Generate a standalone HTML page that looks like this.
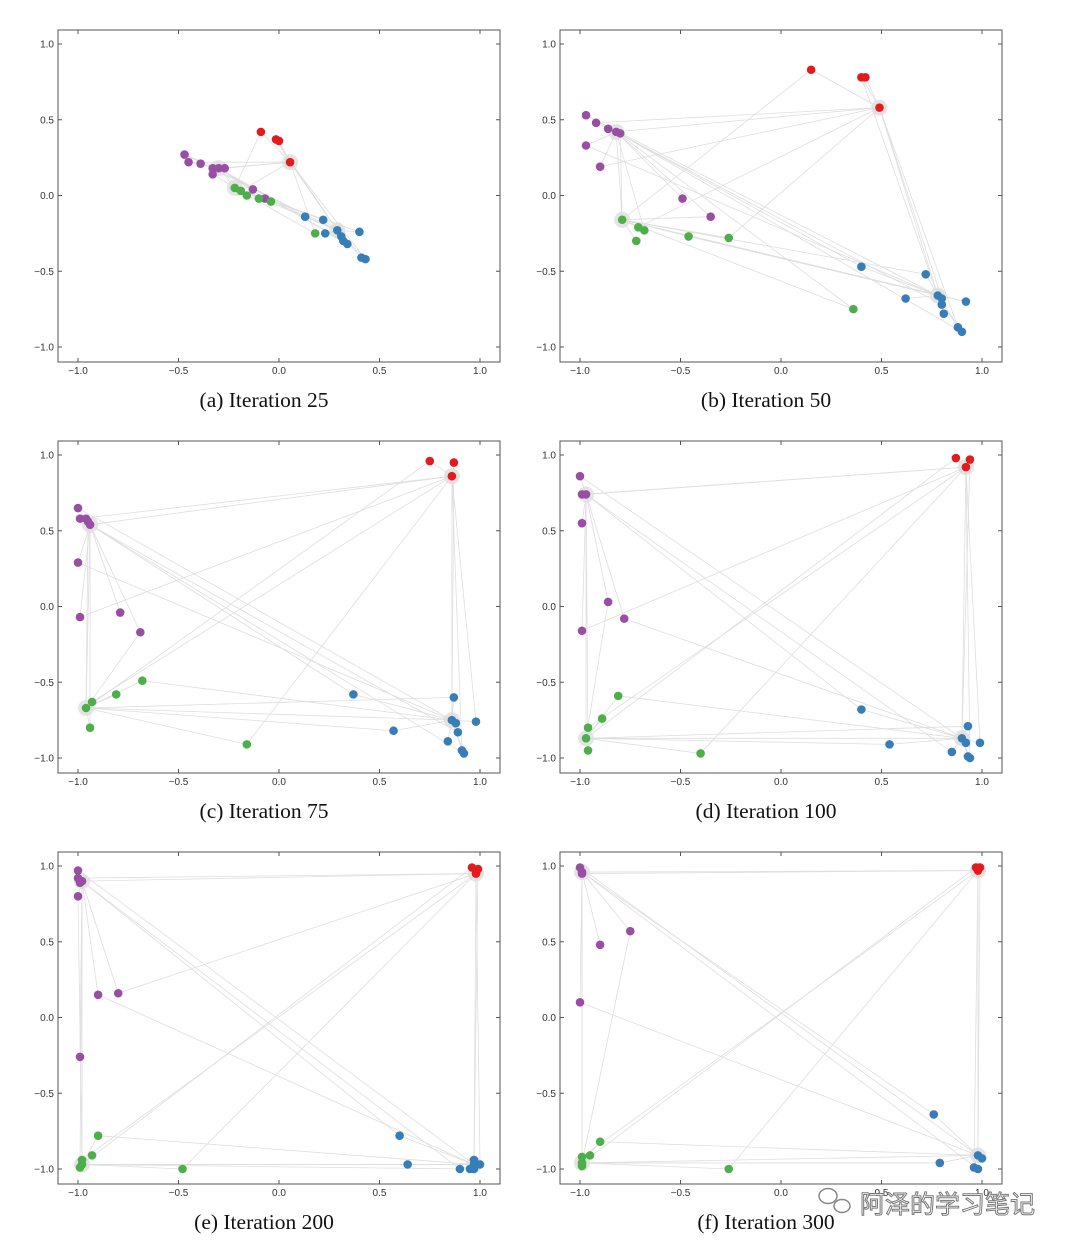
<!DOCTYPE html>
<html><head><meta charset="utf-8">
<style>
html,body{margin:0;padding:0;background:#fff;}
body{width:1080px;height:1251px;overflow:hidden;position:relative;}
svg{position:absolute;left:0;top:0;}
</style></head>
<body>
<svg id="chart" width="1080" height="1251" viewBox="0 0 1080 1251" xmlns="http://www.w3.org/2000/svg"></svg>
<script>
const tickVals = [-1.0, -0.5, 0.0, 0.5, 1.0];
const tickLabels = ["\u22121.0", "\u22120.5", "0.0", "0.5", "1.0"];
const captions = ["(a) Iteration 25","(b) Iteration 50","(c) Iteration 75","(d) Iteration 100","(e) Iteration 200","(f) Iteration 300"];
const groupNames = ["red","purple","green","blue"];
const groupColors = ["#e41a1c","#984ea3","#4daf4a","#377eb8"];

const redA=[[0.055,0.22],[-0.09,0.42],[-0.015,0.37],[0,0.36]];
const purpleA=[[-0.3,0.18],[-0.47,0.27],[-0.45,0.22],[-0.39,0.21],[-0.33,0.14],[-0.33,0.18],[-0.27,0.18],[-0.13,0.04],[-0.07,-0.02]];
const greenA=[[-0.22,0.05],[-0.19,0.03],[-0.16,0],[-0.1,-0.02],[-0.04,-0.04],[0.18,-0.25]];
const blueA=[[0.29,-0.23],[0.13,-0.14],[0.22,-0.16],[0.23,-0.25],[0.31,-0.27],[0.34,-0.32],[0.4,-0.24],[0.41,-0.41],[0.43,-0.42],[0.32,-0.3]];

const redB=[[0.49,0.58],[0.15,0.83],[0.4,0.78],[0.42,0.78]];
const purpleB=[[-0.82,0.42],[-0.97,0.53],[-0.92,0.48],[-0.86,0.44],[-0.8,0.41],[-0.97,0.33],[-0.9,0.19],[-0.49,-0.02],[-0.35,-0.14]];
const greenB=[[-0.79,-0.16],[-0.71,-0.21],[-0.68,-0.23],[-0.72,-0.3],[-0.46,-0.27],[-0.26,-0.28],[0.36,-0.75]];
const blueB=[[0.78,-0.66],[0.4,-0.47],[0.72,-0.52],[0.62,-0.68],[0.8,-0.68],[0.8,-0.72],[0.92,-0.7],[0.81,-0.78],[0.88,-0.87],[0.9,-0.9]];

const redC=[[0.86,0.86],[0.75,0.96],[0.87,0.95]];
const purpleC=[[-0.94,0.54],[-1,0.65],[-0.99,0.58],[-0.96,0.58],[-0.95,0.56],[-1,0.29],[-0.99,-0.07],[-0.79,-0.04],[-0.69,-0.17]];
const greenC=[[-0.96,-0.67],[-0.93,-0.63],[-0.94,-0.8],[-0.81,-0.58],[-0.68,-0.49],[-0.16,-0.91]];
const blueC=[[0.86,-0.75],[0.37,-0.58],[0.87,-0.6],[0.88,-0.77],[0.98,-0.76],[0.89,-0.83],[0.57,-0.82],[0.84,-0.89],[0.91,-0.95],[0.92,-0.97]];

const redD=[[0.92,0.92],[0.87,0.98],[0.94,0.97]];
const purpleD=[[-0.97,0.74],[-1,0.86],[-0.99,0.74],[-0.99,0.55],[-0.86,0.03],[-0.78,-0.08],[-0.99,-0.16]];
const greenD=[[-0.97,-0.87],[-0.96,-0.8],[-0.96,-0.95],[-0.89,-0.74],[-0.81,-0.59],[-0.4,-0.97]];
const blueD=[[0.9,-0.87],[0.4,-0.68],[0.93,-0.79],[0.92,-0.9],[0.99,-0.9],[0.85,-0.96],[0.54,-0.91],[0.93,-0.99],[0.94,-1.0]];

const redE=[[0.98,0.95],[0.96,0.99],[0.99,0.98]];
const purpleE=[[-0.98,0.9],[-1,0.97],[-1,0.92],[-0.99,0.89],[-1,0.8],[-0.9,0.15],[-0.8,0.16],[-0.99,-0.26]];
const greenE=[[-0.98,-0.97],[-0.98,-0.94],[-0.99,-0.99],[-0.93,-0.91],[-0.9,-0.78],[-0.48,-1.0]];
const blueE=[[0.97,-0.97],[0.6,-0.78],[0.64,-0.97],[0.97,-0.94],[1,-0.97],[0.9,-1.0],[0.95,-1.0],[0.97,-1.0]];

const redF=[[0.98,0.97],[0.97,0.99],[0.99,0.99]];
const purpleF=[[-0.99,0.96],[-1,0.99],[-0.99,0.95],[-0.9,0.48],[-0.75,0.57],[-1,0.1]];
const greenF=[[-0.99,-0.96],[-0.99,-0.92],[-0.99,-0.98],[-0.95,-0.91],[-0.9,-0.82],[-0.26,-1.0]];
const blueF=[[0.98,-0.91],[0.76,-0.64],[0.79,-0.96],[1,-0.93],[0.96,-0.99],[0.98,-1.0]];

const panelData=[[redA,purpleA,greenA,blueA],[redB,purpleB,greenB,blueB],[redC,purpleC,greenC,blueC],[redD,purpleD,greenD,blueD],[redE,purpleE,greenE,blueE],[redF,purpleF,greenF,blueF]];

const NS="http://www.w3.org/2000/svg";
const svg=document.getElementById('chart');
function mk(tag,attrs,parent){const e=document.createElementNS(NS,tag);for(const k in attrs)e.setAttribute(k,attrs[k]);(parent||svg).appendChild(e);return e;}

const boxL=[58,560], boxT=[30,441,852], boxW=442, boxH=332;
panelData.forEach((groups,p)=>{
  const col=p%2,row=Math.floor(p/2);
  const L=boxL[col],T=boxT[row];
  const sx=v=>L+20+(v+1)*201;
  const sy=v=>T+14+(1-v)*151.5;
  const g=mk('g',{});
  
  
  const eg=mk('g',{stroke:'#d6d6d6','stroke-width':'0.8',opacity:'0.8',fill:'none'},g);
  
  
  const hubs=groups.map(gr=>gr[0]);
  groups.forEach((gr,gi)=>{
    gr.forEach((pt,i)=>{
      const h=hubs[gi];
      if(i>0){mk('line',{x1:sx(pt[0]),y1:sy(pt[1]),x2:sx(h[0]),y2:sy(h[1])},eg);}
      const oi=(gi+1+i)%4;
      if(gi!==oi){const other=hubs[oi];mk('line',{x1:sx(pt[0]),y1:sy(pt[1]),x2:sx(other[0]),y2:sy(other[1])},eg);}
    });
  });
  hubs.forEach(h=>{const c=mk('circle',{cx:sx(h[0]),cy:sy(h[1]),r:8,fill:'#ddd',opacity:'0.8'},g);
    });
  groups.forEach((gr,gi)=>{gr.forEach(pt=>{
    const c=mk('circle',{cx:sx(pt[0]),cy:sy(pt[1]),r:4.3,fill:groupColors[gi]},g);
    
    
  });});
  const b=mk('rect',{x:L,y:T,width:boxW,height:boxH,fill:'none',stroke:'#555','stroke-width':'1'},g);
  
  tickVals.forEach((v,i)=>{
    mk('line',{x1:sx(v),y1:T+boxH,x2:sx(v),y2:T+boxH-4,stroke:'#555'},g);
    mk('line',{x1:sx(v),y1:T,x2:sx(v),y2:T+4,stroke:'#555'},g);
    mk('line',{x1:L,y1:sy(v),x2:L+4,y2:sy(v),stroke:'#555'},g);
    mk('line',{x1:L+boxW,y1:sy(v),x2:L+boxW-4,y2:sy(v),stroke:'#555'},g);
    const tx=mk('text',{x:sx(v),y:T+boxH+12,'font-size':'10','font-family':'Liberation Sans, sans-serif',fill:'#333','text-anchor':'middle'},g);
    tx.textContent=tickLabels[i];
    
    const ty=mk('text',{x:L-4,y:sy(v)+3.5,'font-size':'10','font-family':'Liberation Sans, sans-serif',fill:'#333','text-anchor':'end'},g);
    ty.textContent=tickLabels[i];
    
  });
  const cap=mk('text',{x:L+boxW/2-15,y:T+boxH+45,'font-size':'21.5','font-family':'Liberation Serif, serif',fill:'#111','text-anchor':'middle'},g);
  cap.textContent=captions[p];
  
});
const wm=mk('g',{});


mk('ellipse',{cx:828,cy:1196,rx:9,ry:7.5,fill:'none',stroke:'#888','stroke-width':'1.5'},wm);
mk('ellipse',{cx:842,cy:1206,rx:8,ry:6.5,fill:'#fff',stroke:'#888','stroke-width':'1.5'},wm);
const wt=mk('text',{x:860,y:1213,'font-size':'25','font-family':'Liberation Sans, Noto Sans CJK SC, sans-serif',fill:'#fff',stroke:'#777','stroke-width':'1'},wm);
wt.textContent='阿泽的学习笔记';
</script>
</body></html>
